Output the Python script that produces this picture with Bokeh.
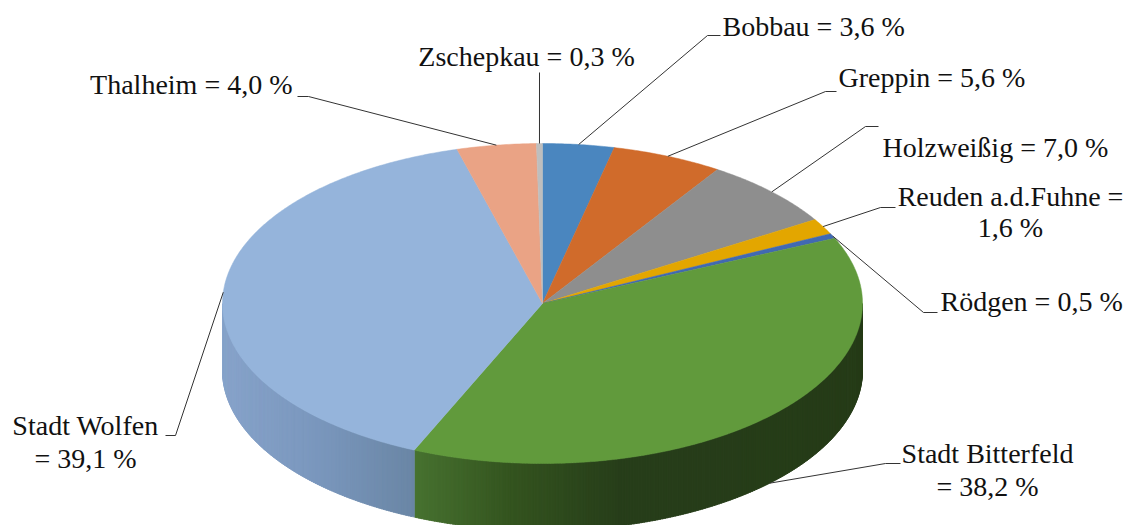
import math
import numpy as np
from bokeh.plotting import figure
from bokeh.models import Range1d, ColumnDataSource
from bokeh.core.properties import value
from bokeh.embed import file_html
from bokeh.resources import INLINE

# ---------------- data ----------------
names = ["Bobbau", "Greppin", "Holzweißig", "Reuden a.d.Fuhne", "Rödgen",
         "Stadt Bitterfeld", "Stadt Wolfen", "Thalheim", "Zschepkau"]
shares = [3.6, 5.6, 7.0, 1.6, 0.5, 38.2, 39.1, 4.0, 0.3]

# ---------------- style / layout ----------------
top_colors = ["#4A86BF", "#D06B2B", "#8E8E8E", "#E3A600", "#4169B2",
              "#619A3C", "#95B4DB", "#EAA385", "#BEBEBE"]
# side-wall gradient stops: (u in 0..1 across pie width, colour)
side_stops = {
    5: [(0.30, "#477230"), (0.45, "#34541F"), (0.62, "#273E1A"), (1.0, "#263C19")],
    6: [(0.0, "#87A3CA"), (0.15, "#7A97BD"), (0.30, "#6A86A5")],
}
default_side = "#555555"

cx, cy = 542.0, 303.0
rx, ry = 320.0, 160.0
depth = 67.0

W, H = 1126, 525

# label layout: wrap mode (0 single line, 1 break after "=", 2 break before "=")
wrap = [0, 0, 0, 1, 0, 2, 2, 0, 0]
lab_x = [722, 838, 882, 1010, 940, 987, 85, 292, 526]
lab_y = [26, 77, 147, 196, 301, 453, 425, 84, 56]
lab_align = ["left", "left", "left", "center", "left", "center", "center", "right", "center"]
line_h = [31, 31, 31, 31, 31, 33, 33, 31, 31]
# leader elbow points (after the anchor on the slice)
elbows = [
    [(707, 35), (720, 35)],
    [(825, 91), (836, 91)],
    [(865, 126), (878, 126)],
    [(880, 207), (895, 207)],
    [(923, 312), (937, 312)],
    [(885, 463), (900, 463)],
    [(175, 435), (165, 435)],
    [(308, 96), (297, 96)],
    [(539, 72)],
]
anchor_on_side = [False, False, False, False, False, True, False, False, False]


def pt(theta_deg, dy=0.0):
    t = math.radians(theta_deg)
    return cx + rx * math.sin(t), cy - ry * math.cos(t) + dy


def hex2rgb(h):
    h = h.lstrip("#")
    return tuple(int(h[i:i + 2], 16) for i in (0, 2, 4))


def grad_color(stops, u):
    if u <= stops[0][0]:
        return stops[0][1]
    if u >= stops[-1][0]:
        return stops[-1][1]
    for (u0, c0), (u1, c1) in zip(stops[:-1], stops[1:]):
        if u0 <= u <= u1:
            f = (u - u0) / (u1 - u0) if u1 > u0 else 0
            a, b = hex2rgb(c0), hex2rgb(c1)
            r = [round(a[k] + (b[k] - a[k]) * f) for k in range(3)]
            return "#%02x%02x%02x" % tuple(r)
    return stops[-1][1]


total = sum(shares)
fr = np.array(shares) / total
ends = np.cumsum(fr) * 360.0
starts = ends - fr * 360.0

p = figure(width=W, height=H, x_range=Range1d(0, W), y_range=Range1d(H, 0),
           output_backend="svg", toolbar_location=None, min_border=0,
           x_axis_type=None, y_axis_type=None, outline_line_color=None,
           background_fill_color="white", border_fill_color="white")
p.grid.visible = False

# ---- side walls (front half: 90..270 deg) ----
sx, sy, sc = [], [], []
step = 0.5
for i in range(len(shares)):
    a0 = max(starts[i], 90.0)
    a1 = min(ends[i], 270.0)
    if a1 <= a0:
        continue
    n = max(1, int(math.ceil((a1 - a0) / step)))
    angs = np.linspace(a0, a1, n + 1)
    for k in range(n):
        t0 = angs[k]
        t1 = min(angs[k + 1] + step * 0.6, a1)   # overlap to hide seams
        p0, p1 = pt(t0), pt(t1)
        b1, b0 = pt(t1, depth), pt(t0, depth)
        xm = (pt(angs[k])[0] + pt(angs[k + 1])[0]) / 2
        u = (xm - (cx - rx)) / (2 * rx)
        col = grad_color(side_stops[i], u) if i in side_stops else default_side
        sx.append([p0[0], p1[0], b1[0], b0[0]])
        sy.append([p0[1], p1[1], b1[1], b0[1]])
        sc.append(col)
p.patches(xs=sx, ys=sy, fill_color=sc, line_color=sc, line_width=0.7)

# ---- top surfaces ----
tx, ty = [], []
for i in range(len(shares)):
    n = max(2, int(math.ceil((ends[i] - starts[i]) / 0.5)))
    angs = np.linspace(starts[i], ends[i], n + 1)
    xs = [cx] + [pt(a)[0] for a in angs]
    ys = [cy] + [pt(a)[1] for a in angs]
    tx.append(xs)
    ty.append(ys)
p.patches(xs=tx, ys=ty, fill_color=top_colors, line_color=top_colors, line_width=0.5)

# ---- leader lines ----
lx, ly = [], []
for i in range(len(shares)):
    mid = (starts[i] + ends[i]) / 2
    ax, ay = pt(mid, depth if anchor_on_side[i] else 0.0)
    xs = [ax] + [e[0] for e in elbows[i]]
    ys = [ay] + [e[1] for e in elbows[i]]
    lx.append(xs)
    ly.append(ys)
p.multi_line(xs=lx, ys=ly, line_color="#333333", line_width=1)

# ---- labels ----
groups = {"left": dict(x=[], y=[], t=[]), "center": dict(x=[], y=[], t=[]),
          "right": dict(x=[], y=[], t=[])}
for i in range(len(shares)):
    num = ("%.1f" % shares[i]).replace(".", ",") + " %"
    if wrap[i] == 0:
        lines = [f"{names[i]} = {num}"]
    elif wrap[i] == 1:
        lines = [f"{names[i]} =", num]
    else:
        lines = [names[i], f"= {num}"]
    for j, ln in enumerate(lines):
        g = groups[lab_align[i]]
        g["x"].append(lab_x[i])
        g["y"].append(lab_y[i] + j * line_h[i])
        g["t"].append(ln)
for al, g in groups.items():
    if not g["t"]:
        continue
    src = ColumnDataSource(dict(x=g["x"], y=g["y"], t=g["t"]))
    p.text(x="x", y="y", text="t", source=src, text_align=al,
           text_baseline="alphabetic", text_font=value("Liberation Serif"),
           text_font_size="28px", text_color="#111111")

open("out.html", "w").write(file_html(p, INLINE))
